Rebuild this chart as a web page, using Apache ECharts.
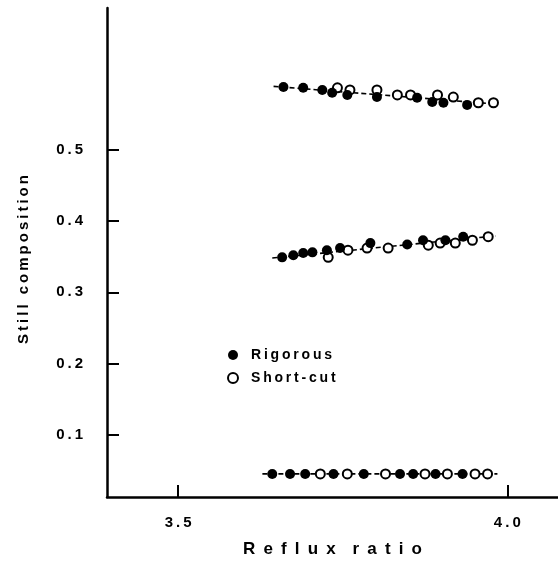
<!DOCTYPE html>
<html lang="en">
<head>
<meta charset="UTF-8">
<title>Still composition</title>
<script src="https://cdn.jsdelivr.net/npm/echarts@6/dist/echarts.min.js"></script>
<style>
  html, body { margin: 0; padding: 0; background: #fff; }
  #chart { width: 558px; height: 561px; }
</style>
</head>
<body>
<div id="chart"></div>
<script>
// data ------------------------------------------------
var rigTopX = [3.660, 3.690, 3.719, 3.734, 3.757, 3.802, 3.863, 3.886, 3.903, 3.939];
var rigTopY = [0.588, 0.587, 0.584, 0.580, 0.577, 0.574, 0.573, 0.567, 0.566, 0.563];
var shortTopX = [3.742, 3.761, 3.802, 3.833, 3.853, 3.894, 3.918, 3.956, 3.979];
var shortTopY = [0.587, 0.584, 0.584, 0.577, 0.577, 0.577, 0.574, 0.566, 0.566];

var rigMidX = [3.658, 3.675, 3.690, 3.704, 3.726, 3.746, 3.792, 3.848, 3.872, 3.906, 3.933];
var rigMidY = [0.349, 0.352, 0.355, 0.356, 0.359, 0.362, 0.369, 0.367, 0.373, 0.373, 0.378];
var shortMidX = [3.728, 3.758, 3.787, 3.819, 3.880, 3.898, 3.921, 3.947, 3.971];
var shortMidY = [0.349, 0.359, 0.362, 0.362, 0.366, 0.369, 0.369, 0.373, 0.378];

var rigLowX = [3.643, 3.670, 3.693, 3.736, 3.782, 3.837, 3.857, 3.891, 3.932];
var rigLowY = [0.045, 0.045, 0.045, 0.045, 0.045, 0.045, 0.045, 0.045, 0.045];
var shortLowX = [3.716, 3.757, 3.815, 3.875, 3.909, 3.951, 3.970];
var shortLowY = [0.045, 0.045, 0.045, 0.045, 0.045, 0.045, 0.045];

// fitted trend lines (start, end)
var fitTop = [[3.645, 0.589], [3.985, 0.564]];
var fitMid = [[3.643, 0.348], [3.982, 0.379]];
var fitLow = [[3.628, 0.045], [3.985, 0.045]];

var xTicks = [3.5, 4.0];
var yTicks = [0.1, 0.2, 0.3, 0.4, 0.5];

function pairs(xs, ys) {
    var out = [];
    for (var i = 0; i < xs.length; i++) out.push([xs[i], ys[i]]);
    return out;
}
// the old typeset labels are letter-spaced; fake it with thin spaces
function spaced(s, gap) {
    return String(s).split('').join(gap || '\u2009');
}

var chart = echarts.init(document.getElementById('chart'));
var font = 'Liberation Sans, Arial, sans-serif';

function fitLine(d) {
    return {
        type: 'line', data: d, symbol: 'none', silent: true, z: 1,
        lineStyle: { color: '#000', width: 1.6, type: [5, 3] }
    };
}
function dots(name, d) {
    var open = name === 'Short-cut';
    return {
        name: name, type: 'scatter', data: d,
        symbol: open ? 'emptyCircle' : 'circle',
        symbolSize: open ? 9 : 10, z: open ? 3 : 4,
        itemStyle: open ? { color: '#000', borderColor: '#000', borderWidth: 2.2, opacity: 1 }
                        : { color: '#000', opacity: 1 }
    };
}

var option = {
    animation: false,
    grid: { left: 107, right: 0, top: 8, bottom: 64, outerBoundsMode: 'none', containLabel: false },
    legend: {
        orient: 'vertical', left: 222, top: 343,
        itemWidth: 10, itemHeight: 10, itemGap: 9,
        data: ['Rigorous', 'Short-cut'],
        formatter: function (n) { return spaced(n); },
        textStyle: { fontFamily: font, fontWeight: 'bold', fontSize: 14, color: '#000', padding: [0, 0, 0, 8] }
    },
    xAxis: {
        type: 'value', min: 3.392, max: 4.077,
        name: spaced('Reflux', ' \u2009') + '\u2002\u2002' + spaced('ratio', ' \u2009'),
        nameLocation: 'middle', nameGap: 44,
        nameTextStyle: { fontFamily: font, fontWeight: 'bold', fontSize: 17, color: '#000' },
        axisLine: { lineStyle: { color: '#000', width: 2.5 } },
        axisTick: { inside: true, length: 12, customValues: xTicks, lineStyle: { color: '#000', width: 2 } },
        axisLabel: {
            customValues: xTicks, margin: 18, fontFamily: font, fontWeight: 'bold', fontSize: 15, color: '#000',
            formatter: function (v) { return spaced(v.toFixed(1)); }
        },
        splitLine: { show: false }
    },
    yAxis: {
        type: 'value', min: 0.0126, max: 0.699,
        name: spaced('Still composition'), nameLocation: 'middle', nameGap: 76, nameRotate: 90,
        nameTextStyle: { fontFamily: font, fontWeight: 'bold', fontSize: 15, color: '#000', padding: [0, 14, 0, 0] },
        axisLine: { lineStyle: { color: '#000', width: 2.5 } },
        axisTick: { inside: true, length: 12, customValues: yTicks, lineStyle: { color: '#000', width: 2 } },
        axisLabel: {
            customValues: yTicks, margin: 24, fontFamily: font, fontWeight: 'bold', fontSize: 15, color: '#000',
            formatter: function (v) { return spaced(v.toFixed(1)); }
        },
        splitLine: { show: false }
    },
    series: [
        fitLine(fitTop), fitLine(fitMid), fitLine(fitLow),
        dots('Rigorous', pairs(rigTopX, rigTopY)),
        dots('Rigorous', pairs(rigMidX, rigMidY)),
        dots('Rigorous', pairs(rigLowX, rigLowY)),
        dots('Short-cut', pairs(shortTopX, shortTopY)),
        dots('Short-cut', pairs(shortMidX, shortMidY)),
        dots('Short-cut', pairs(shortLowX, shortLowY))
    ]
};
chart.setOption(option);
</script>
</body>
</html>
